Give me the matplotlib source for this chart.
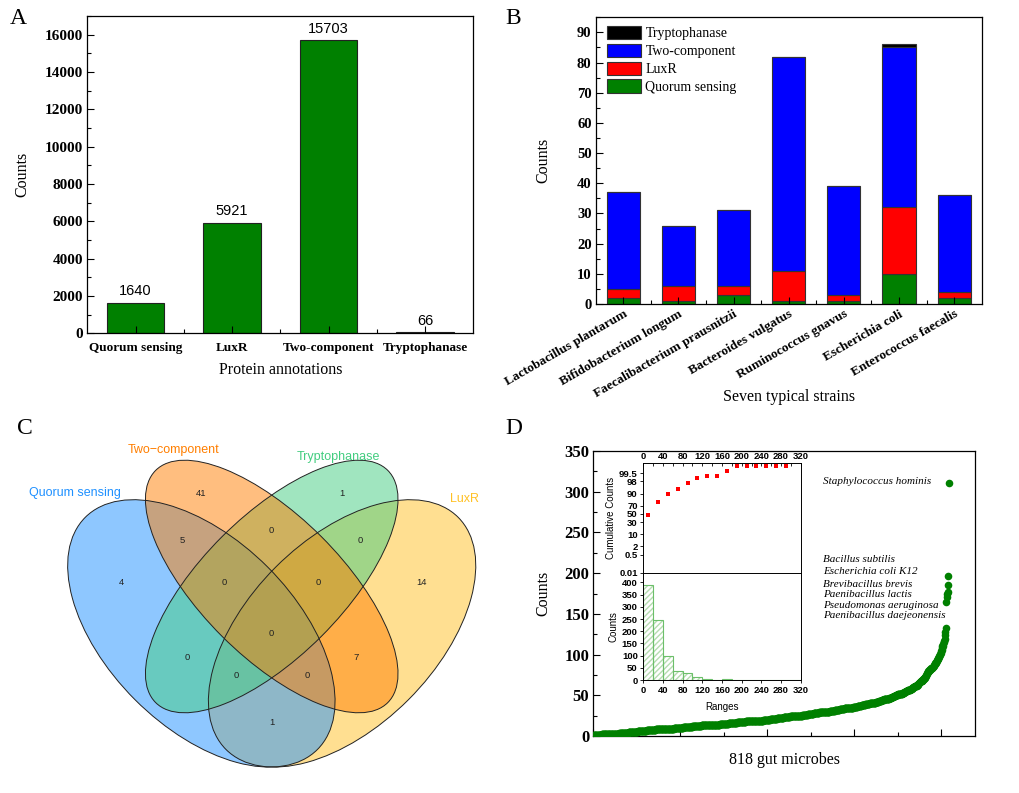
import numpy as np
import matplotlib
matplotlib.use("Agg")
import matplotlib.pyplot as plt
from matplotlib.patches import Ellipse
from matplotlib.ticker import MultipleLocator, FixedLocator, NullLocator, FuncFormatter
from statistics import NormalDist

plt.rcParams["font.family"] = "serif"
plt.rcParams["font.serif"] = ["Liberation Serif", "DejaVu Serif"]
plt.rcParams["font.weight"] = "bold"   # tick labels are bold (Origin style)
plt.rcParams["axes.labelweight"] = "normal"

# ---- A: protein annotations
annotations = ["Quorum sensing", "LuxR", "Two-component", "Tryptophanase"]
annotation_counts = [1640, 5921, 15703, 66]

# ---- B: seven typical strains (stacked)
strains = ["Lactobacillus plantarum", "Bifidobacterium longum",
           "Faecalibacterium prausnitzii", "Bacteroides vulgatus",
           "Ruminococcus gnavus", "Escherichia coli", "Enterococcus faecalis"]
strain_qs = [2, 1, 3, 1, 1, 10, 2]
strain_luxr = [3, 5, 3, 10, 2, 22, 2]
strain_twocomp = [32, 20, 25, 71, 36, 53, 32]
strain_trp = [0, 0, 0, 0, 0, 1, 0]

# ---- C: venn
venn_sets = ["Quorum sensing", "Two\u2212component", "Tryptophanase", "LuxR"]
venn_regions = ["QS", "TC", "Trp", "LuxR", "QS&TC", "TC&Trp", "Trp&LuxR",
                "QS&TC&Trp", "TC&Trp&LuxR", "all", "QS&Trp", "TC&LuxR",
                "QS&Trp&LuxR", "QS&TC&LuxR", "QS&LuxR"]
venn_counts = [4, 41, 1, 14, 5, 0, 0, 0, 0, 0, 0, 7, 0, 0, 1]

# ---- D: 818 gut microbes
# number of microbes having each count value 1..99
count_freq = [19, 20, 20, 21, 21, 21, 21, 21, 21, 21, 21, 21, 21, 21, 20, 20, 20, 20, 20,
              16, 16, 15, 15, 14, 14, 13, 13, 13, 12, 12, 12, 11, 11, 10, 10, 10, 9, 9, 10,
              7, 7, 7, 6, 6, 6, 6, 5, 5, 5, 5, 5, 5, 4, 4, 4, 4, 3, 3, 3,
              3, 3, 3, 2, 2, 2, 2, 2, 2, 2, 2, 2, 1, 1, 1, 1, 1, 1, 1, 1,
              2, 2, 2, 2, 2, 2, 1, 1, 1, 1, 2, 1, 1, 1, 1, 1, 1, 1, 1, 1]
tail_counts = [101, 102, 104, 106, 108, 110, 111, 113, 115, 117, 119, 124, 128, 133,
               164, 171, 174, 177, 186, 197, 311]
species_names = ["Staphylococcus hominis", "Bacillus subtilis", "Escherichia coli K12",
                 "Brevibacillus brevis", "Paenibacillus lactis", "Pseudomonas aeruginosa",
                 "Paenibacillus daejeonensis"]
species_label_y = [312, 216.5, 202.5, 186.5, 173.5, 160.5, 147.5]
prob_ticks = [0.01, 0.5, 2, 10, 30, 50, 70, 90, 98, 99.5]

sorted_counts = np.sort(np.concatenate([np.repeat(np.arange(1, 100), count_freq), tail_counts]))

W, H = 1020, 793
fig = plt.figure(figsize=(W / 100, H / 100), dpi=100)


def px_axes(l, t, r, b):
    return fig.add_axes([l / W, 1 - b / H, (r - l) / W, (b - t) / H])


def origin_ticks(ax, size, direction="in"):
    ax.tick_params(which="both", direction=direction, top=False, right=False)
    ax.tick_params(which="major", length=5, width=0.8, labelsize=size, pad=3)
    ax.tick_params(which="minor", length=3, width=0.8)
    for s in ax.spines.values():
        s.set_linewidth(0.9)


GREEN = "#008000"

# ================= A
axA = px_axes(87.3, 16, 473.3, 333.3)
xa = np.arange(len(annotations))
axA.bar(xa, annotation_counts, width=0.6, color=GREEN, edgecolor="#222222", linewidth=0.8)
for xi, v in zip(xa, annotation_counts):
    axA.text(xi, v + 230, str(v), ha="center", va="bottom", family="Liberation Sans",
             fontsize=10.5, fontweight="normal")
axA.set_xlim(-0.5, len(annotations) - 0.5)
axA.set_ylim(0, 17000)
axA.set_xticks(xa)
axA.set_xticklabels(annotations)
axA.xaxis.set_minor_locator(FixedLocator(xa[:-1] + 0.5))
axA.yaxis.set_major_locator(MultipleLocator(2000))
axA.yaxis.set_minor_locator(MultipleLocator(1000))
origin_ticks(axA, 11)
axA.tick_params(axis="x", labelsize=9.5, pad=6)
axA.set_xlabel("Protein annotations", fontsize=11.5)
axA.set_ylabel("Counts", fontsize=11.5)
axA.xaxis.set_label_coords(0.5, -0.116)
axA.yaxis.set_label_coords(-0.169, 0.5)
axA.xaxis.label.set_va("center")
axA.yaxis.label.set_va("center")

# ================= B
axB = px_axes(595.7, 17.3, 981.7, 304)
xb = np.arange(len(strains))
bottom = np.zeros(len(strains))
handles = []
for vals, col, lab in [(strain_qs, GREEN, "Quorum sensing"), (strain_luxr, "#FF0000", "LuxR"),
                       (strain_twocomp, "#0000FF", "Two-component"),
                       (strain_trp, "#000000", "Tryptophanase")]:
    h = axB.bar(xb, vals, 0.6, bottom=bottom, color=col, edgecolor="#333333",
                linewidth=0.8, label=lab)
    handles.append(h)
    bottom = bottom + np.array(vals)
axB.set_xlim(-0.5, len(strains) - 0.5)
axB.set_ylim(0, 95)
axB.set_xticks(xb)
axB.set_xticklabels(strains, rotation=30, ha="right", rotation_mode="anchor")
axB.xaxis.set_minor_locator(FixedLocator(xb[:-1] + 0.5))
axB.yaxis.set_major_locator(MultipleLocator(10))
axB.yaxis.set_minor_locator(MultipleLocator(5))
origin_ticks(axB, 10.5)
axB.tick_params(axis="x", labelsize=9.5)
axB.legend(handles[::-1], [h.get_label() for h in handles[::-1]], loc="upper left",
           bbox_to_anchor=(0.03, 0.97), frameon=False, borderpad=0, borderaxespad=0,
           handlelength=2.45, handleheight=1.1, labelspacing=0.25, handletextpad=0.3,
           prop={"family": "serif", "size": 10, "weight": "normal"})
axB.set_xlabel("Seven typical strains", fontsize=11.5)
axB.set_ylabel("Counts", fontsize=11.5)
axB.xaxis.set_label_coords(0.5, -0.323)
axB.yaxis.set_label_coords(-0.1365, 0.5)
axB.xaxis.label.set_va("center")
axB.yaxis.label.set_va("center")

# ================= C (venn, 4 ellipses)
axC = px_axes(0, 410, 510, 790)
axC.set_xlim(-0.0793, 1.008)
axC.set_ylim(0.1361, 0.9463)
axC.axis("off")
venn_colors = ["#1E90FF", "#FF7F00", "#43CD80", "#FFC125"]
venn_shapes = [(0.35, 0.47, 0.35, 0.20, -45), (0.50, 0.57, 0.35, 0.15, -45),
               (0.50, 0.57, 0.35, 0.15, 45), (0.65, 0.47, 0.35, 0.20, 45)]
fill_order = [3, 0, 2, 1]   # stacking of the translucent fills
for i in fill_order:
    cx, cy, a, b, ang = venn_shapes[i]
    axC.add_patch(Ellipse((cx, cy), 2 * a, 2 * b, angle=ang, facecolor=venn_colors[i],
                          alpha=0.5, edgecolor="none"))
for (cx, cy, a, b, ang) in venn_shapes:
    axC.add_patch(Ellipse((cx, cy), 2 * a, 2 * b, angle=ang, fill=False,
                          edgecolor="#222222", linewidth=0.7))
region_pos = [(0.179, 0.579), (0.349, 0.769), (0.649, 0.769), (0.820, 0.579),
              (0.309, 0.669), (0.500, 0.689), (0.688, 0.669), (0.399, 0.579),
              (0.599, 0.579), (0.500, 0.470), (0.319, 0.419), (0.680, 0.419),
              (0.424, 0.380), (0.575, 0.380), (0.500, 0.281)]
for (px, py), n in zip(region_pos, venn_counts):
    axC.text(px, py, str(n), ha="center", va="center", fontsize=6.8,
             family="Liberation Sans", fontweight="normal", color="#222222")
set_pos = [(0.081, 0.769), (0.290, 0.860), (0.642, 0.846), (0.912, 0.757)]
for (px, py), name, col in zip(set_pos, venn_sets, venn_colors):
    axC.text(px, py, name, ha="center", va="center", fontsize=9, color=col,
             family="Liberation Sans", fontweight="normal")

# ================= D
axD = px_axes(593.3, 451, 975, 736)
ranks = np.arange(1, len(sorted_counts) + 1)
axD.scatter(ranks, sorted_counts, s=30, color=GREEN, linewidths=0, zorder=3)
axD.set_xlim(0, 878)
axD.set_ylim(0, 350)
axD.xaxis.set_major_locator(MultipleLocator(200))
axD.xaxis.set_minor_locator(MultipleLocator(100))
axD.yaxis.set_major_locator(MultipleLocator(50))
axD.yaxis.set_minor_locator(MultipleLocator(25))
origin_ticks(axD, 12)
axD.tick_params(axis="x", labelbottom=False)
axD.set_xlabel("818 gut microbes", fontsize=11.5)
axD.set_ylabel("Counts", fontsize=11.5)
axD.xaxis.set_label_coords(0.5, -0.084)
axD.yaxis.set_label_coords(-0.132, 0.5)
axD.xaxis.label.set_va("center")
axD.yaxis.label.set_va("center")
for name, y in zip(species_names, species_label_y):
    axD.text(529, y, name, ha="left", va="center", fontsize=8, style="italic",
             fontweight="normal")

# inset: cumulative (probability scale) + histogram
bins = np.arange(0, 321, 20)
hist, _ = np.histogram(sorted_counts, bins=bins)
centers = bins[:-1] + 10
cum_pct = np.cumsum(hist) / len(sorted_counts) * 100
keep = cum_pct < 100

_nd = NormalDist()
_fwd = np.vectorize(lambda p: _nd.inv_cdf(min(max(p / 100.0, 1e-9), 1 - 1e-9)), otypes=[float])
_inv = np.vectorize(lambda z: _nd.cdf(z) * 100.0, otypes=[float])

inset_font = "Liberation Sans"
axT = px_axes(643.3, 463.3, 800.7, 572.7)
axT.set_yscale("function", functions=(_fwd, _inv))
axT.plot(centers[keep], cum_pct[keep], "s", color="#FF0000", markersize=2.6, markeredgewidth=0)
axT.set_xlim(0, 320)
axT.set_ylim(0.01, 99.93)
axT.yaxis.set_major_locator(FixedLocator(prob_ticks))
axT.yaxis.set_major_formatter(FuncFormatter(lambda v, _p: f"{v:g}"))
axT.yaxis.set_minor_locator(NullLocator())
axT.xaxis.set_major_locator(MultipleLocator(40))
axT.xaxis.set_minor_locator(MultipleLocator(20))
axT.tick_params(which="both", direction="out", length=2.5, width=0.6, labelsize=6.8,
                labelfontfamily=inset_font, pad=1.5, bottom=False, labelbottom=False,
                top=True, labeltop=True)
axT.tick_params(axis="x", which="both", direction="in", length=2)
axT.set_ylabel("Cumulative Counts", fontsize=7, family=inset_font, labelpad=2)

axH = px_axes(643.3, 572.7, 800.7, 680)
axH.bar(bins[:-1], hist, width=20, align="edge", facecolor="white", edgecolor="#b5dcb0",
        hatch="//////", linewidth=0)
axH.bar(bins[:-1], hist, width=20, align="edge", fill=False, edgecolor="#6cbf6a", linewidth=0.8)
axH.set_xlim(0, 320)
axH.set_ylim(0, 440)
axH.xaxis.set_major_locator(MultipleLocator(40))
axH.yaxis.set_major_locator(MultipleLocator(50))
axH.tick_params(which="both", direction="out", length=2.5, width=0.6, labelsize=6.8,
                labelfontfamily=inset_font, pad=1.5)
axH.set_xlabel("Ranges", fontsize=7, family=inset_font, labelpad=5)
axH.set_ylabel("Counts", fontsize=7, family=inset_font, labelpad=2)
for a in (axT, axH):
    for s in a.spines.values():
        s.set_linewidth(0.7)

# panel letters
for letter, (lx, ly) in zip("ABCD", [(18, 18), (513, 18), (25, 428), (514, 428)]):
    fig.text(lx / W, 1 - ly / H, letter, ha="center", va="center", fontsize=17,
             fontweight="normal")

fig.savefig("out.png", dpi=100)
